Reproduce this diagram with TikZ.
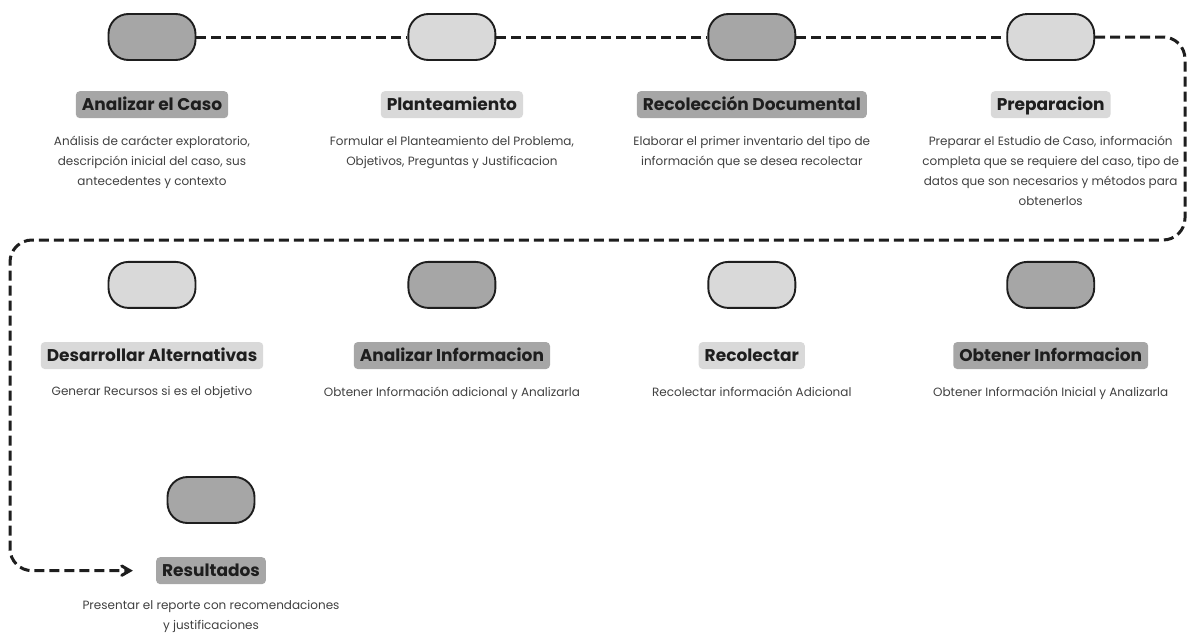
\documentclass[tikz,border=0pt]{standalone}
\usepackage{fontspec}
\setmainfont{Poppins}
\usetikzlibrary{arrows,positioning}

\definecolor{darkfill}{HTML}{A6A6A6}
\definecolor{lightfill}{HTML}{D9D9D9}
\definecolor{inkline}{HTML}{1E1E1E}

\begin{document}
\begin{tikzpicture}[x=1pt,y=1pt,>=angle 60,
	pill/.style={rectangle,rounded corners=20pt,draw=inkline,line width=1.9pt,
		minimum width=87pt,minimum height=46pt},
	tag/.style={rectangle,rounded corners=4pt,inner xsep=6pt,inner ysep=0pt,
		text height=19pt,text depth=8pt,text=inkline,
		font=\bfseries\fontsize{17}{20}\selectfont},
	note/.style={align=center,text=black!75,font=\fontsize{12}{20}\selectfont},
	flow/.style={draw=inkline,line width=3pt,dash pattern=on 10pt off 5pt}]
\useasboundingbox (0,0) rectangle (1188,-637);
% first row
\node[pill,fill=darkfill] (p1) at (152,-37) {};
\node[pill,fill=lightfill] (p2) [right=211pt of p1] {};
\node[pill,fill=darkfill] (p3) [right=211pt of p2] {};
\node[pill,fill=lightfill] (p4) [right=210pt of p3] {};
\node[tag,fill=darkfill] (l1) [below=30pt of p1] {Analizar el Caso};
\node[tag,fill=lightfill] (l2) [below=30pt of p2] {Planteamiento};
\node[tag,fill=darkfill] (l3) [below=30pt of p3] {Recolección Documental};
\node[tag,fill=lightfill] (l4) [below=30pt of p4] {Preparacion};
\node[note] (d1) [below=14pt of l1] {Análisis de carácter exploratorio,\\descripción inicial del caso, sus\\antecedentes y contexto};
\node[note] (d2) [below=14pt of l2] {Formular el Planteamiento del Problema,\\Objetivos, Preguntas y Justificacion};
\node[note] (d3) [below=14pt of l3] {Elaborar el primer inventario del tipo de\\información que se desea recolectar};
\node[note] (d4) [below=14pt of l4] {Preparar el Estudio de Caso, información\\completa que se requiere del caso, tipo de\\datos que son necesarios y métodos para\\obtenerlos};
% second row
\node[pill,fill=lightfill] (p5) [below=200pt of p1] {};
\node[pill,fill=darkfill] (p6) [right=211pt of p5] {};
\node[pill,fill=lightfill] (p7) [right=211pt of p6] {};
\node[pill,fill=darkfill] (p8) [right=210pt of p7] {};
\node[tag,fill=lightfill] (l5) [below=33pt of p5] {Desarrollar Alternativas};
\node[tag,fill=darkfill] (l6) [below=33pt of p6] {Analizar Informacion};
\node[tag,fill=lightfill] (l7) [below=33pt of p7] {Recolectar};
\node[tag,fill=darkfill] (l8) [below=33pt of p8] {Obtener Informacion};
\node[note] (d5) [below=14pt of l5] {Generar Recursos si es el objetivo};
\node[note] (d6) [below=14pt of l6] {Obtener Información adicional y Analizarla};
\node[note] (d7) [below=14pt of l7] {Recolectar información Adicional};
\node[note] (d8) [below=14pt of l8] {Obtener Información Inicial y Analizarla};
% last one
\node[pill,fill=darkfill] (p9) at (211,-500) {};
\node[tag,fill=darkfill] (l9) [below=33pt of p9] {Resultados};
\node[note] (d9) [below=12pt of l9] {Presentar el reporte con recomendaciones\\y justificaciones};
% turns of the path
\coordinate (c1) at (1185,-37);
\coordinate (c2) at (1185,-240);
\coordinate (c3) at (10,-240);
\draw[flow] (p1) -- (p2) (p2) -- (p3) (p3) -- (p4);
\draw[flow,rounded corners=22pt,->,shorten >=23pt]
	(p4.east) -- (c1) -- (c2) -- (c3) |- (l9.west);
\end{tikzpicture}
\end{document}
